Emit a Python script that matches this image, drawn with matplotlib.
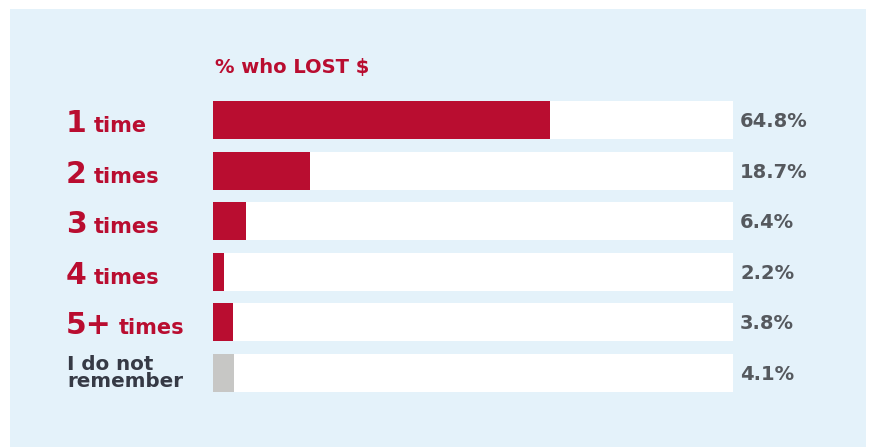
import matplotlib
matplotlib.use("Agg")
import matplotlib.pyplot as plt
from matplotlib.patches import Rectangle
from matplotlib import transforms

# Data
categories = ["1 time", "2 times", "3 times", "4 times", "5+ times", "I do not remember"]
label_nums = ["1", "2", "3", "4", "5+"]
label_units = ["time", "times", "times", "times", "times"]
other_label = "I do not\nremember"
values = [64.8, 18.7, 6.4, 2.2, 3.8, 4.1]
value_labels = ["64.8%", "18.7%", "6.4%", "2.2%", "3.8%", "4.1%"]
title = "% who LOST $"

RED = "#b90d30"
GREY_BAR = "#c7c7c5"
PANEL = "#e4f2fa"
VALUE_TXT = "#55595e"
DARK_TXT = "#363a45"

plt.rcParams["font.family"] = ["DejaVu Sans"]

W, H, DPI = 869, 447, 100
fig = plt.figure(figsize=(W / DPI, H / DPI), dpi=DPI, facecolor="white")

# light blue panel behind the chart
fig.patches.append(Rectangle((10 / W, 0), (866 - 10) / W, (H - 9) / H,
                             transform=fig.transFigure, facecolor=PANEL,
                             edgecolor="none", zorder=-5))

ax = fig.add_axes([213 / W, 1 - 392 / H, 520 / W, 291 / H])
ax.set_facecolor("none")
ax.set_axis_off()
ax.set_xlim(0, 100)
n = len(values)
ax.set_ylim(n - 1 + 0.375, -0.375)

ypos = list(range(n))
colors = [RED] * (n - 1) + [GREY_BAR]
ax.barh(ypos, [100] * n, height=0.75, color="white", edgecolor="none")
ax.barh(ypos, values, height=0.75, color=colors, edgecolor="none")

# baseline transforms (pixel offsets converted to inches)
def shifted(dy_px):
    return ax.transData + transforms.ScaledTranslation(0, -dy_px / DPI, fig.dpi_scale_trans)

label_tr_y = shifted(12)
label_tr = transforms.blended_transform_factory(fig.transFigure, label_tr_y)
for i, (num, unit) in enumerate(zip(label_nums, label_units)):
    t = fig.text(66 / W, i, num, transform=label_tr, fontsize=21.5,
                 fontweight="bold", color=RED, va="baseline", ha="left")
    ax.annotate(unit, xy=(1, i), xycoords=(t, label_tr_y),
                xytext=(7, 0), textcoords="offset pixels",
                fontsize=15, fontweight="bold", color=RED,
                va="baseline", ha="left", annotation_clip=False)

other_tr = transforms.blended_transform_factory(fig.transFigure, ax.transData)
fig.text(67 / W, n - 1, other_label, transform=other_tr, fontsize=14.3,
         fontweight="bold", color=DARK_TXT, va="center", ha="left",
         linespacing=0.85)

# value labels to the right of the tracks
val_tr = transforms.blended_transform_factory(fig.transFigure, shifted(7))
for i, vl in enumerate(value_labels):
    fig.text(740 / W, i, vl, transform=val_tr, fontsize=14,
             fontweight="bold", color=VALUE_TXT, va="baseline", ha="left")

fig.text(215 / W, 1 - 73 / H, title, fontsize=14, fontweight="bold",
         color=RED, va="baseline", ha="left")

fig.savefig("out.png", dpi=DPI, facecolor="white")
